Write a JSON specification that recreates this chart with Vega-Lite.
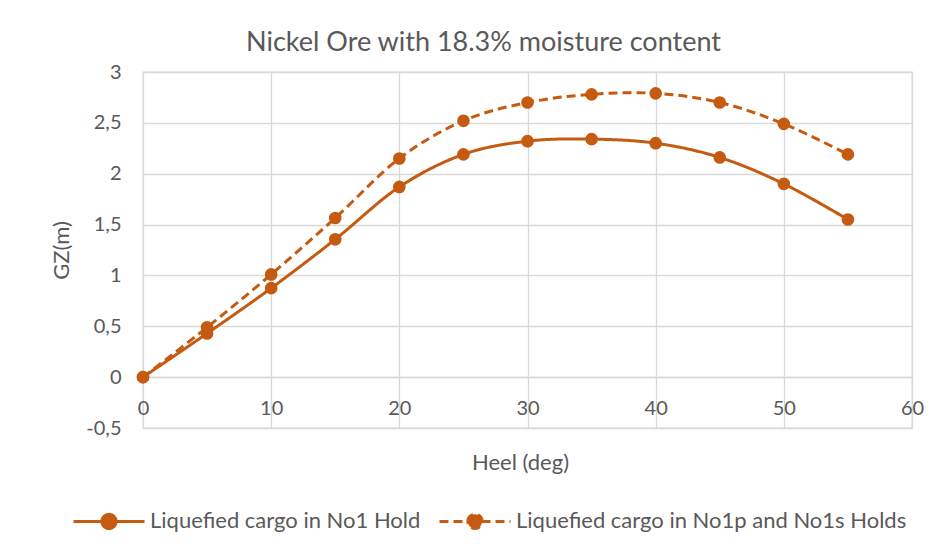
{
  "$schema": "https://vega.github.io/schema/vega-lite/v6.json",
  "width": 769,
  "height": 356,
  "autosize": {"type": "none"},
  "padding": {"left": 143, "top": 72, "right": 33, "bottom": 127},
  "background": "white",
  "title": {
    "text": "Nickel Ore with 18.3% moisture content",
    "font": "Lato",
    "fontSize": 27,
    "fontWeight": "normal",
    "color": "#595959",
    "anchor": "middle",
    "dx": -44,
    "offset": 5
  },
  "data": {
    "values": [
      {"heel": 0, "gz": 0, "series": "Liquefied cargo in No1 Hold"},
      {"heel": 5, "gz": 0.43, "series": "Liquefied cargo in No1 Hold"},
      {"heel": 10, "gz": 0.875, "series": "Liquefied cargo in No1 Hold"},
      {"heel": 15, "gz": 1.355, "series": "Liquefied cargo in No1 Hold"},
      {"heel": 20, "gz": 1.87, "series": "Liquefied cargo in No1 Hold"},
      {"heel": 25, "gz": 2.19, "series": "Liquefied cargo in No1 Hold"},
      {"heel": 30, "gz": 2.32, "series": "Liquefied cargo in No1 Hold"},
      {"heel": 35, "gz": 2.34, "series": "Liquefied cargo in No1 Hold"},
      {"heel": 40, "gz": 2.30, "series": "Liquefied cargo in No1 Hold"},
      {"heel": 45, "gz": 2.16, "series": "Liquefied cargo in No1 Hold"},
      {"heel": 50, "gz": 1.90, "series": "Liquefied cargo in No1 Hold"},
      {"heel": 55, "gz": 1.55, "series": "Liquefied cargo in No1 Hold"},
      {"heel": 0, "gz": 0, "series": "Liquefied cargo in No1p and No1s Holds"},
      {"heel": 5, "gz": 0.49, "series": "Liquefied cargo in No1p and No1s Holds"},
      {"heel": 10, "gz": 1.01, "series": "Liquefied cargo in No1p and No1s Holds"},
      {"heel": 15, "gz": 1.565, "series": "Liquefied cargo in No1p and No1s Holds"},
      {"heel": 20, "gz": 2.15, "series": "Liquefied cargo in No1p and No1s Holds"},
      {"heel": 25, "gz": 2.52, "series": "Liquefied cargo in No1p and No1s Holds"},
      {"heel": 30, "gz": 2.70, "series": "Liquefied cargo in No1p and No1s Holds"},
      {"heel": 35, "gz": 2.78, "series": "Liquefied cargo in No1p and No1s Holds"},
      {"heel": 40, "gz": 2.79, "series": "Liquefied cargo in No1p and No1s Holds"},
      {"heel": 45, "gz": 2.70, "series": "Liquefied cargo in No1p and No1s Holds"},
      {"heel": 50, "gz": 2.49, "series": "Liquefied cargo in No1p and No1s Holds"},
      {"heel": 55, "gz": 2.19, "series": "Liquefied cargo in No1p and No1s Holds"}
    ]
  },
  "encoding": {
    "x": {
      "field": "heel",
      "type": "quantitative",
      "scale": {"domain": [0, 60], "nice": false},
      "axis": {
        "title": "Heel (deg)",
        "values": [0, 10, 20, 30, 40, 50, 60],
        "offset": -51,
        "domainColor": "#D9D9D9",
        "domainWidth": 1.5,
        "ticks": false,
        "labelFlush": false,
        "labelPadding": 21,
        "titleX": 377,
        "titlePadding": 34,
        "gridColor": "#D9D9D9",
        "gridWidth": 1.3
      }
    },
    "y": {
      "field": "gz",
      "type": "quantitative",
      "scale": {"domain": [-0.5, 3], "nice": false, "zero": false},
      "axis": {
        "title": "GZ(m)",
        "values": [-0.5, 0, 0.5, 1, 1.5, 2, 2.5, 3],
        "labelExpr": "replace(replace(format(datum.value, '~g'), '.', ','), '\u2212', '-')",
        "domain": false,
        "ticks": false,
        "labelPadding": 22,
        "titleX": -70,
        "titleY": 178,
        "gridColor": "#D9D9D9",
        "gridWidth": 1.3
      }
    }
  },
  "layer": [
    {
      "mark": {"type": "line", "interpolate": "cardinal", "color": "#C55A11", "strokeWidth": 3},
      "encoding": {
        "detail": {"field": "series"},
        "strokeDash": {
          "field": "series",
          "type": "nominal",
          "scale": {
            "domain": ["Liquefied cargo in No1 Hold", "Liquefied cargo in No1p and No1s Holds"],
            "range": [[1, 0], [9, 5]]
          },
          "legend": {
            "title": null,
            "orient": "none",
            "direction": "horizontal",
            "legendX": -71,
            "legendY": 412,
            "symbolType": "M-1,0H1M-0.2,0A0.2,0.2 0 1,1 0.2,0A0.2,0.2 0 1,1 -0.2,0Z",
            "symbolSize": 5041,
            "symbolStrokeWidth": 3,
            "symbolStrokeColor": "#C55A11",
            "symbolFillColor": "#C55A11",
            "labelFont": "Lato",
            "labelFontSize": 22,
            "labelColor": "#595959",
            "labelOffset": 4,
            "labelLimit": 500,
            "columnPadding": 12,
            "encode": {"symbols": {"update": {"fill": {"value": "#C55A11"}, "stroke": {"value": "#C55A11"}}}}
          }
        }
      }
    },
    {
      "mark": {"type": "point", "filled": true, "shape": "circle", "size": 160, "color": "#C55A11", "opacity": 1},
      "encoding": {"detail": {"field": "series"}}
    }
  ],
  "config": {
    "view": {"stroke": "#D9D9D9", "strokeWidth": 1.3},
    "axis": {
      "labelFont": "Lato",
      "labelFontSize": 20,
      "labelColor": "#595959",
      "titleFont": "Lato",
      "titleFontSize": 22,
      "titleFontWeight": "normal",
      "titleColor": "#595959"
    }
  }
}
